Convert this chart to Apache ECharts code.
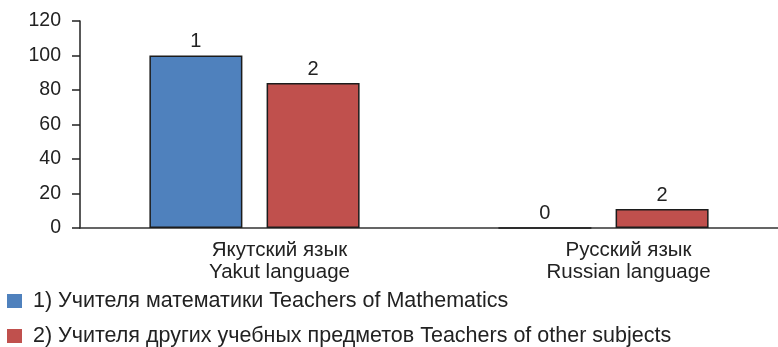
<!DOCTYPE html>
<html>
<head>
<meta charset="utf-8">
<style>
html,body{margin:0;padding:0;background:#fff;}
#chart{width:778px;height:347px;}
</style>
<script src="https://cdn.jsdelivr.net/npm/echarts@6/dist/echarts.min.js"></script>
</head>
<body>
<div id="chart"></div>
<script>
// Language of instruction, share of teachers (%)
const categories = ['Якутский язык\nYakut language', 'Русский язык\nRussian language'];
const seriesNames = ['1) Учителя математики Teachers of Mathematics',
                     '2) Учителя других учебных предметов Teachers of other subjects'];
const mathValues = [100, 0];
const otherValues = [84, 11];
const mathLabels = ['1', '0'];
const otherLabels = ['2', '2'];
const yTicks = [0, 20, 40, 60, 80, 100, 120];
const colors = ['#4f81bd', '#c0504d'];

const font = '"Liberation Sans", Arial, sans-serif';
const chart = echarts.init(document.getElementById('chart'));

function barSeries(name, values, labels, color) {
  return {
    type: 'bar',
    name: name,
    barWidth: 93,
    barGap: '26%',
    data: values.map((v, i) => ({ value: v, labelText: labels[i] })),
    itemStyle: { color: color, borderColor: '#1c1c1c', borderWidth: 1.5 },
    label: {
      show: true,
      position: 'top',
      distance: 4,
      color: '#222',
      fontSize: 20,
      fontFamily: font,
      formatter: p => p.data.labelText
    }
  };
}

function legendRow(name, top) {
  return {
    left: 7,
    top: top,
    padding: 0,
    itemWidth: 15,
    itemHeight: 14,
    itemGap: 0,
    icon: 'rect',
    itemStyle: { borderWidth: 0 },
    textStyle: { fontSize: 21.5, fontFamily: font, color: '#222', padding: [0, 0, 0, 6] },
    data: [name]
  };
}

chart.setOption({
  animation: false,
  grid: { left: 80, top: 21, width: 701, height: 207 },
  legend: [legendRow(seriesNames[0], 290), legendRow(seriesNames[1], 325)],
  xAxis: {
    type: 'category',
    data: categories,
    axisLine: { lineStyle: { color: '#333', width: 1.5 } },
    axisTick: { show: false },
    axisLabel: {
      color: '#222',
      fontSize: 20.5,
      fontFamily: font,
      lineHeight: 22,
      margin: 11,
      padding: [0, 0, 0, 50]
    }
  },
  yAxis: {
    type: 'value',
    min: yTicks[0],
    max: yTicks[yTicks.length - 1],
    interval: 20,
    axisLine: { show: true, lineStyle: { color: '#222', width: 1.5 } },
    axisTick: { show: true, length: 8, lineStyle: { color: '#222', width: 1.5 } },
    splitLine: { show: false },
    axisLabel: { color: '#222', fontSize: 19.5, fontFamily: font, margin: 19 }
  },
  series: [
    barSeries(seriesNames[0], mathValues, mathLabels, colors[0]),
    barSeries(seriesNames[1], otherValues, otherLabels, colors[1])
  ]
});
</script>
</body>
</html>
